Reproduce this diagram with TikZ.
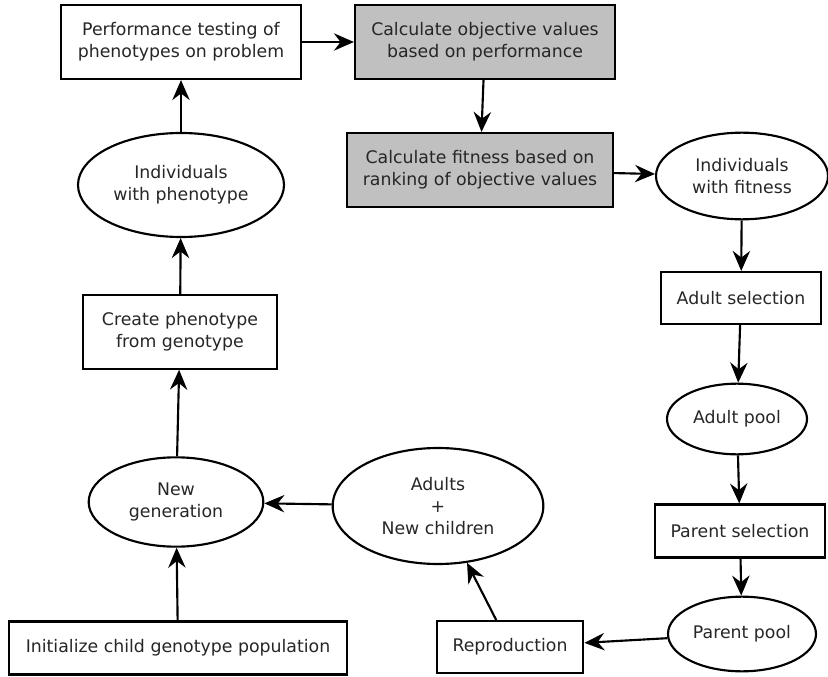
\documentclass[tikz,border=0pt]{standalone}
\usepackage{fontspec}
\setmainfont{DejaVu Sans}
\usetikzlibrary{shapes.geometric,arrows.meta}
\begin{document}
\begin{tikzpicture}[x=0.75pt,y=0.75pt,yscale=-1,xscale=1,
	every node/.style={text=black!85,font=\fontsize{13}{16.5}\selectfont,align=center,line width=1.6pt,inner sep=0pt},
	procbox/.style={draw,rectangle},
	calcbox/.style={draw,rectangle,fill={rgb, 255:red, 192; green, 192; blue, 192 }},
	poolnode/.style={draw,ellipse},
	flow/.style={line width=1.6pt,-{Stealth[length=15pt,width=13pt,inset=5pt]}}]
		\useasboundingbox (0,0) rectangle (828,677);

		%Shape: Rectangle [id:perf] 
		\node [procbox,minimum width=180pt,minimum height=55.5pt] (perf) at (181,42) {Performance testing of\\phenotypes on problem};
		%Shape: Rectangle [id:calcobj] 
		\node [calcbox,minimum width=195pt,minimum height=55.5pt] (calcobj) at (485,42) {Calculate objective values\\based on performance};
		%Shape: Rectangle [id:calcfit] 
		\node [calcbox,minimum width=199.5pt,minimum height=55.5pt] (calcfit) at (480,170) {Calculate fitness based on\\ranking of objective values};
		%Shape: Ellipse [id:indfit] 
		\node [poolnode,minimum width=129pt,minimum height=65pt] (indfit) at (742,176) {Individuals\\with fitness};
		%Shape: Rectangle [id:adultsel] 
		\node [procbox,minimum width=120pt,minimum height=39pt] (adultsel) at (741,298) {Adult selection};
		%Shape: Ellipse [id:adultpool] 
		\node [poolnode,minimum width=105pt,minimum height=53pt] (adultpool) at (737,419) {Adult pool};
		%Shape: Rectangle [id:parentsel] 
		\node [procbox,minimum width=128pt,minimum height=39.75pt] (parentsel) at (740,531) {Parent selection};
		%Shape: Ellipse [id:parentpool] 
		\node [poolnode,minimum width=111pt,minimum height=56pt] (parentpool) at (742,634) {Parent pool};
		%Shape: Rectangle [id:repro] 
		\node [procbox,minimum width=110pt,minimum height=39pt] (repro) at (510,647) {Reproduction};
		%Shape: Ellipse [id:adultsnew] 
		\node [poolnode,minimum width=158pt,minimum height=87pt] (adultsnew) at (438,506) {Adults\\+\\New children};
		%Shape: Ellipse [id:newgen] 
		\node [poolnode,minimum width=131pt,minimum height=67pt] (newgen) at (176,502) {New\\generation};
		%Shape: Rectangle [id:init] 
		\node [procbox,minimum width=253.5pt,minimum height=39.75pt] (init) at (178,648) {Initialize child genotype population};
		%Shape: Rectangle [id:createphen] 
		\node [procbox,minimum width=145.5pt,minimum height=55pt] (createphen) at (180,332) {Create phenotype\\from genotype};
		%Shape: Ellipse [id:indphen] 
		\node [poolnode,minimum width=154.5pt,minimum height=78pt] (indphen) at (181,185) {Individuals\\with phenotype};

		%Straight Lines with arrows
		\draw [flow] (init) -- (newgen);
		\draw [flow] (newgen) -- (createphen);
		\draw [flow] (createphen) -- (indphen);
		\draw [flow] (indphen) -- (perf);
		\draw [flow] (perf) -- (calcobj);
		\draw [flow] (calcobj) -- (calcfit);
		\draw [flow] (calcfit) -- (indfit);
		\draw [flow] (indfit) -- (adultsel);
		\draw [flow] (adultsel) -- (adultpool);
		\draw [flow] (adultpool) -- (parentsel);
		\draw [flow] (parentsel) -- (parentpool);
		\draw [flow] (parentpool) -- (repro);
		\draw [flow] (repro) -- (adultsnew);
		\draw [flow] (adultsnew) -- (newgen);

		\end{tikzpicture}
\end{document}
